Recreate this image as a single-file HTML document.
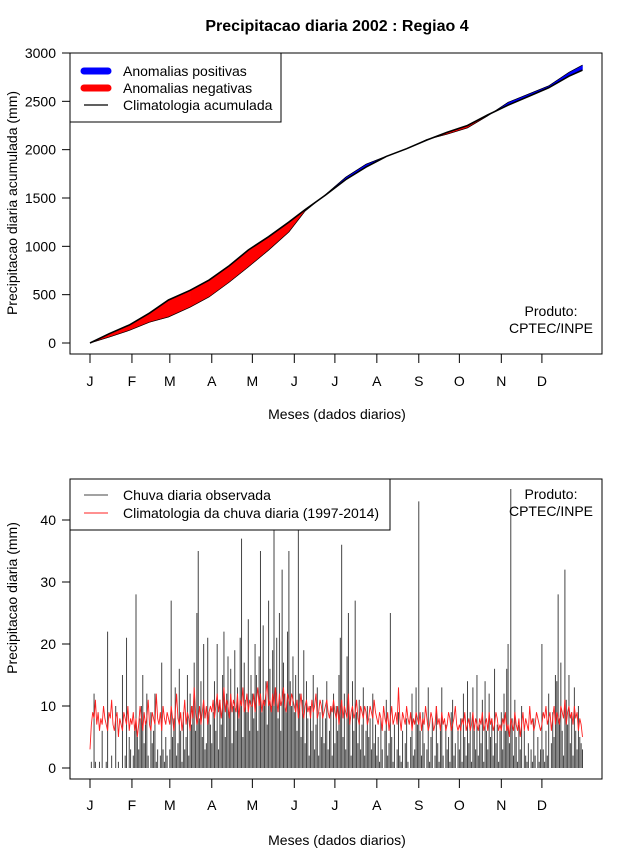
<!DOCTYPE html>
<html><head><meta charset="utf-8">
<style>
body{margin:0;background:#fff;}
svg{display:block;font-family:"Liberation Sans",Arial,sans-serif;}
</style></head>
<body>
<svg id="chart" width="640" height="850" viewBox="0 0 640 850">
<text x="337" y="31" font-size="16" font-weight="bold" text-anchor="middle">Precipitacao diaria 2002 : Regiao 4</text>
<g id="top"></g>
<g id="bot"></g>
</svg>
<script>
// ---- Top chart data (accumulated, sampled days) ----
const accDays = [1,15,30,45,59,75,89,104,118,133,148,160,175,190,205,220,235,250,265,280,295,310,325,340,355,365];
const accClim = [0,95,186,310,445,545,651,800,962,1100,1251,1380,1530,1690,1820,1930,2010,2100,2180,2250,2360,2460,2550,2640,2760,2823];
const accObs  = [0,60,130,215,269,370,476,630,786,960,1148,1365,1535,1715,1850,1932,2008,2105,2160,2225,2350,2490,2575,2660,2800,2875];
const topYTicks = [0,500,1000,1500,2000,2500,3000];
const monthLabels = ["J","F","M","A","M","J","J","A","S","O","N","D"];
const monthStartDays = [1,32,60,91,121,152,182,213,244,274,305,335];
// ---- Bottom chart data (daily) ----
const dailyObs = [
0,1,0,12,1,0,0,1,0,6,0,0,1,22,0,0,2,0,0,10,0,1,0,0,15,0,2,21,0,5,3,
0,2,6,28,5,3,8,10,15,4,7,12,2,0,9,4,6,12,1,3,0,2,17,3,1,5,2,0,
3,27,5,8,13,2,4,16,6,1,9,3,5,15,2,12,7,10,17,6,25,35,8,14,5,20,3,4,21,9,7,
4,9,14,6,20,3,11,7,15,22,5,12,18,9,16,4,10,19,6,13,8,21,37,5,17,11,9,24,6,15,
12,8,20,15,6,18,35,9,23,11,14,7,27,16,10,19,44,13,21,8,25,6,32,17,12,9,22,35,14,10,18,
9,15,6,44,12,5,11,19,4,14,8,2,10,6,15,3,7,13,2,9,5,11,4,8,14,3,6,10,2,12,
4,10,6,15,21,36,5,12,3,18,25,8,2,14,6,27,9,4,11,3,7,13,2,6,10,5,8,3,12,4,7,
2,5,1,8,3,0,6,11,2,4,25,5,1,7,0,3,9,2,1,6,0,4,8,1,0,5,12,2,3,13,7,
43,6,2,9,4,0,3,13,1,5,8,0,2,10,4,1,6,13,2,0,7,3,5,1,9,11,2,4,0,6,
3,8,1,12,5,2,14,4,9,1,13,6,3,15,2,7,4,11,1,14,6,3,12,5,8,2,16,4,7,1,6,
9,3,12,6,16,20,4,45,8,2,11,5,1,7,3,10,0,6,2,1,4,0,3,1,8,2,0,5,1,3,
20,3,1,6,2,12,0,4,9,5,15,14,28,8,17,6,2,32,11,7,15,4,9,2,13,6,3,10,5,4,3];
const dailyClim = [
3,7,9,8,11,7,9,6,8,7,10,8,7,6,9,8,11,7,6,8,9,5,8,7,6,9,8,7,10,6,8,
7,9,6,8,5,7,10,8,6,9,7,8,11,7,6,9,8,7,12,8,7,9,6,10,8,7,9,8,
7,10,8,6,9,12,8,7,9,6,8,11,7,9,8,6,10,8,13,9,7,8,10,7,9,11,8,10,7,9,10,
9,11,8,10,12,9,11,8,10,13,9,11,10,8,12,9,11,10,9,12,8,11,10,13,9,10,12,9,11,10,
10,12,9,11,13,10,12,9,11,10,12,14,10,11,9,12,10,13,11,9,12,10,11,13,10,9,12,11,10,12,11,
10,9,11,8,10,12,9,8,10,11,9,10,8,11,9,10,12,8,9,11,10,8,9,10,11,9,8,10,9,11,
9,8,10,7,9,11,8,10,9,8,12,7,9,10,8,9,11,8,7,10,9,8,10,9,7,8,10,9,8,11,9,
8,7,9,8,6,10,8,7,9,6,8,10,7,8,9,7,13,8,6,9,8,7,10,8,7,9,6,8,7,9,8,
7,9,6,8,7,10,8,6,7,9,8,6,7,10,7,8,6,9,7,8,6,7,9,8,6,7,8,10,7,6,
7,6,8,7,9,6,7,8,6,7,9,6,8,7,6,8,7,9,6,7,8,6,9,7,8,6,7,9,8,6,7,
6,8,7,9,6,7,5,8,7,6,9,7,6,8,5,7,9,6,8,7,6,10,7,8,6,7,9,8,7,6,
7,9,8,10,7,8,9,6,8,10,7,9,8,7,10,9,8,11,7,9,10,8,9,7,10,8,9,6,8,7,5];
const botYTicks = [0,10,20,30,40];

const NS="http://www.w3.org/2000/svg";
function mk(parent,tag,attrs,txt){const e=document.createElementNS(NS,tag);for(const k in attrs)e.setAttribute(k,attrs[k]);if(txt!==undefined)e.textContent=txt;parent.appendChild(e);return e;}
const xDay = d => 90 + (d-1)*1.353;
const yTop = v => 343 - v*0.09667;
const yBot = v => 768 - v*6.2;

function axes(g, box, yTicks, yFn, xLabY, ylabel, ylabY, xTitleY){
  const b = mk(g,'rect',{x:box[0],y:box[1],width:box[2]-box[0],height:box[3]-box[1],fill:'none',stroke:'#000','stroke-width':1});
  
  
  yTicks.forEach(t=>{
    const y=yFn(t);
    const l=mk(g,'line',{x1:box[0]-8,x2:box[0],y1:y,y2:y,stroke:'#000'});
    
    
    const tx=mk(g,'text',{x:box[0]-14,y:y+5,'font-size':14,'text-anchor':'end'},String(t));
    
    
  });
  monthStartDays.forEach((d,i)=>{
    const x=xDay(d);
    const l=mk(g,'line',{x1:x,x2:x,y1:box[3],y2:box[3]+9,stroke:'#000'});
    
    
    const tx=mk(g,'text',{x:x,y:xLabY,'font-size':14,'text-anchor':'middle'},monthLabels[i]);
    
    
  });
  const xt=mk(g,'text',{x:337,y:xTitleY,'font-size':14,'text-anchor':'middle'},'Meses (dados diarios)');
  
  
  const yt=mk(g,'text',{x:0,y:0,'font-size':14,'text-anchor':'middle',transform:`translate(17,${ylabY}) rotate(-90)`},ylabel);
  
  
}

// ---- Top panel ----
const gT=document.getElementById('top');
for(let i=0;i<accDays.length-1;i++){
  const x1=xDay(accDays[i]),x2=xDay(accDays[i+1]);
  const d1=accObs[i]-accClim[i], d2=accObs[i+1]-accClim[i+1];
  const pts=[[x1,yTop(accClim[i])],[x2,yTop(accClim[i+1])],[x2,yTop(accObs[i+1])],[x1,yTop(accObs[i])]];
  const pos=(d1+d2)>=0;
  const p=mk(gT,'polygon',{points:pts.map(q=>q.join(',')).join(' '),fill:pos?'#0000ff':'#ff0000',stroke:pos?'#0000ff':'#ff0000','stroke-width':0.5});
  
  
}
const obsLine=mk(gT,'polyline',{points:accDays.map((d,i)=>xDay(d)+','+yTop(accObs[i])).join(' '),fill:'none',stroke:'#000','stroke-width':0.7});


const climLine=mk(gT,'polyline',{points:accDays.map((d,i)=>xDay(d)+','+yTop(accClim[i])).join(' '),fill:'none',stroke:'#000','stroke-width':1.6});


axes(gT,[70,53,602,354],topYTicks,yTop,386,'Precipitacao diaria acumulada (mm)',203,419);
const leg1=mk(gT,'g',{});


mk(leg1,'rect',{x:70,y:53,width:211,height:69,fill:'#fff',stroke:'#000'});
mk(leg1,'line',{x1:84,x2:108,y1:71,y2:71,stroke:'#0000ff','stroke-width':7,'stroke-linecap':'round'});
mk(leg1,'line',{x1:84,x2:108,y1:88,y2:88,stroke:'#ff0000','stroke-width':7,'stroke-linecap':'round'});
mk(leg1,'line',{x1:84,x2:108,y1:105,y2:105,stroke:'#000','stroke-width':1.2});
mk(leg1,'text',{x:123,y:76,'font-size':14},'Anomalias positivas');
mk(leg1,'text',{x:123,y:93,'font-size':14},'Anomalias negativas');
mk(leg1,'text',{x:123,y:110,'font-size':14},'Climatologia acumulada');
mk(gT,'text',{x:551,y:316,'font-size':14,'text-anchor':'middle'},'Produto:');
mk(gT,'text',{x:551,y:333,'font-size':14,'text-anchor':'middle'},'CPTEC/INPE');

// ---- Bottom panel ----
const gB=document.getElementById('bot');
dailyObs.forEach((v,i)=>{
  const x=xDay(i+1);
  const l=mk(gB,'line',{x1:x,x2:x,y1:yBot(0),y2:Math.max(479,yBot(v)),stroke:'#444','stroke-width':1});
  
  
});
const cl=mk(gB,'polyline',{points:dailyClim.map((v,i)=>xDay(i+1)+','+yBot(v)).join(' '),fill:'none',stroke:'#ff2020','stroke-width':0.9});


axes(gB,[70,479,602,779],botYTicks,yBot,810,'Precipitacao diaria (mm)',598,845);
const leg2=mk(gB,'g',{});


mk(leg2,'rect',{x:70,y:479,width:320,height:51,fill:'#fff',stroke:'#000'});
mk(leg2,'line',{x1:84,x2:108,y1:495,y2:495,stroke:'#444','stroke-width':1});
mk(leg2,'line',{x1:84,x2:108,y1:513,y2:513,stroke:'#ff2020','stroke-width':1});
mk(leg2,'text',{x:123,y:500,'font-size':14},'Chuva diaria observada');
mk(leg2,'text',{x:123,y:518,'font-size':14},'Climatologia da chuva diaria (1997-2014)');
mk(gB,'text',{x:551,y:499,'font-size':14,'text-anchor':'middle'},'Produto:');
mk(gB,'text',{x:551,y:516,'font-size':14,'text-anchor':'middle'},'CPTEC/INPE');
</script>
</body></html>
